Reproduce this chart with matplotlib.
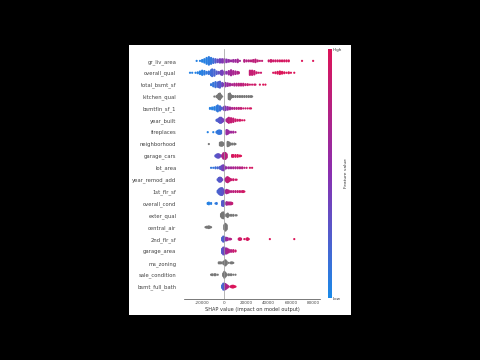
import matplotlib
matplotlib.use('Agg')
import matplotlib.pyplot as plt
from matplotlib.colors import LinearSegmentedColormap
from matplotlib.cm import ScalarMappable

# (shap value in thousands, points in the pile, feature value 0-1 or None for grey)
gr_liv_area = [(-25,1,.05),(-22,1,.05),(-20,3,.05),(-18,5,.05),(-16,8,.06),(-14,10,.08),(-12,8,.1),(-10,6,.15),
               (-8,5,.25),(-6,4,.35),(-4,5,.4),(-2,5,.45),(0,5,.5),(2,4,.5),(4,3,.55),(6,2,.6),(8,3,.6),(10,3,.62),
               (12,4,.65),(14,1,.65),(18,3,.75),(20,2,.75),(22,2,.78),(24,2,.8),(26,3,.8),(28,4,.82),(30,2,.82),
               (32,1,.85),(34,1,.85),(40,2,.9),(42,3,.9),(44,2,.9),(46,2,.92),(48,2,.92),(50,2,.95),(52,2,.95),
               (54,2,.95),(56,2,.97),(58,2,.97),(70,1,1.0),(80,1,1.0)]
overall_qual = [(-31,1,.05),(-29,1,.05),(-26,1,.05),(-24,2,.05),(-22,4,.05),(-20,6,.06),(-18,5,.08),(-16,3,.1),
                (-14,4,.12),(-12,7,.15),(-11,9,.18),(-9,8,.2),(-7,4,.25),(-5,3,.32),(-3,5,.38),(-2,6,.4),(0,4,.45),
                (2,3,.5),(4,5,.6),(6,7,.65),(8,5,.68),(10,4,.7),(12,3,.72),(13,2,.75),(23,6,.85),(25,6,.85),
                (27,5,.87),(29,2,.88),(31,1,.9),(33,1,.9),(44,1,.97),(46,2,.97),(48,3,1.0),(50,4,1.0),(52,3,1.0),
                (54,2,1.0),(56,1,1.0),(58,2,1.0),(60,1,1.0),(63,1,1.0)]
total_bsmt_sf = [(-12,2,.1),(-10,5,.12),(-8,7,.15),(-6,6,.2),(-5,7,.22),(-4,8,.25),(-2,5,.35),(-1,3,.42),(1,5,.55),
                 (3,4,.6),(5,3,.65),(7,2,.7),(9,3,.72),(11,3,.75),(13,3,.78),(15,3,.8),(17,3,.82),(19,2,.85),
                 (21,2,.88),(23,1,.9),(25,1,.9),(27,1,.92),(28,1,.92),(32,1,.95),(35,1,1.0),(37,1,1.0)]
kitchen_qual = [(-9,1,None),(-7,2,None),(-6,4,None),(-5,7,None),(-4,8,None),(-3,4,None),(-2,1,None),(4,7,None),
                (5,8,None),(6,4,None),(7,2,None),(8,2,None),(10,2,None),(12,2,None),(14,2,None),(16,2,None),
                (18,2,None),(20,2,None),(22,2,None),(24,2,None),(25,1,None)]
bsmtfin_sf_1 = [(-13,2,.05),(-11,3,.05),(-9,4,.06),(-7,6,.08),(-6,8,.1),(-4,6,.15),(-3,3,.2),(-1,3,.3),(0,5,.4),
                (1,5,.45),(3,4,.55),(5,3,.65),(7,2,.7),(9,2,.75),(11,2,.78),(13,2,.8),(15,2,.85),(17,1,.85),
                (19,1,.9),(21,1,.9),(23,1,.95),(24,1,.95)]
year_built = [(-7,2,.2),(-6,3,.25),(-5,5,.25),(-4,7,.28),(-3,7,.3),(-2,5,.35),(-1,3,.4),(2,3,.7),(3,5,.75),(4,7,.8),
              (6,6,.85),(8,5,.85),(10,3,.9),(12,2,.9),(14,2,.92),(16,1,.95),(18,1,.95)]
fireplaces = [(-15,1,.05),(-10,1,.05),(-7,2,.1),(-6,4,.1),(-5,5,.12),(-4,5,.12),(-3,4,.15),(2,6,.55),(3,5,.6),
              (4,3,.6),(6,2,.62),(8,2,.65),(10,1,.7)]
neighborhood = [(-14,1,None),(-4,4,None),(-3,5,None),(-2,5,None),(-1,3,None),(3,6,None),(4,5,None),(5,3,None),
                (7,2,None),(9,2,None),(10,1,None)]
garage_cars = [(-8,2,.25),(-7,4,.28),(-6,5,.3),(-5,5,.32),(-4,3,.35),(-2,3,.65),(-1,7,.72),(0,8,.75),(1,8,.78),
               (2,5,.8),(7,3,.95),(8,3,.95),(10,3,1.0),(12,3,1.0),(14,2,1.0),(15,1,1.0)]
lot_area = [(-12,1,.1),(-10,1,.12),(-8,2,.15),(-6,2,.2),(-4,3,.25),(-3,4,.3),(-2,6,.35),(-1,7,.4),(0,5,.45),(1,2,.5),
            (2,2,.6),(4,2,.62),(6,2,.65),(8,2,.68),(10,2,.7),(12,2,.72),(14,2,.75),(16,2,.78),(18,1,.8),(20,1,.85),
            (23,1,.95),(25,1,.95)]
year_remod_add = [(-6,2,.25),(-5,5,.25),(-4,6,.28),(-3,5,.3),(-2,2,.35),(1,3,.75),(2,6,.8),(3,7,.82),(4,5,.85),
                  (5,3,.85),(6,2,.88),(8,2,.9),(10,1,.9),(11,1,.92)]
first_flr_sf = [(-6,3,.2),(-5,6,.22),(-4,8,.25),(-3,9,.25),(-2,9,.28),(-1,6,.3),(0,3,.35),(1,3,.6),(2,5,.7),(3,4,.72),
                (4,3,.75),(6,2,.78),(8,2,.8),(10,2,.82),(12,2,.85),(14,2,.88),(16,2,.9),(17,2,.92),(18,1,.95)]
overall_cond = [(-15,2,.05),(-14,3,.05),(-12,2,.06),(-8,1,.08),(-7,2,.1),(-2,6,.25),(-1,7,.28),(0,3,.3),(2,4,.65),
                (3,3,.7),(4,3,.72),(5,3,.75),(6,3,.8),(7,2,.85)]
exter_qual = [(-3,4,None),(-2,7,None),(-1,8,None),(0,3,None),(2,3,None),(3,5,None),(4,2,None),(6,2,None),(8,2,None),
              (10,1,None),(11,1,None)]
central_air = [(-17,1,None),(-16,2,None),(-15,2,None),(-14,3,None),(-13,2,None),(-12,1,None),(0,6,None),(1,9,None),
               (2,6,None)]
second_flr_sf = [(-2,4,.2),(-1,7,.22),(0,6,.28),(1,3,.35),(2,4,.6),(3,3,.65),(5,2,.7),(6,1,.75),(13,2,.9),(14,3,.9),
                 (15,2,.92),(18,1,.95),(20,2,.95),(21,3,.97),(22,1,.97),(41,1,1.0),(63,1,1.0)]
garage_area = [(-2,6,.25),(-1,9,.3),(0,9,.38),(1,6,.5),(2,7,.65),(3,5,.7),(4,4,.72),(6,3,.78),(8,3,.85),(10,2,.9)]
ms_zoning = [(-5,2,None),(-4,2,None),(-3,2,None),(-1,3,None),(0,5,None),(1,7,None),(2,4,None),(4,1,None),(6,2,None),
             (7,2,None),(8,1,None)]
sale_condition = [(-12,1,None),(-11,2,None),(-9,2,None),(-8,2,None),(-6,1,None),(-1,4,None),(0,8,None),(1,5,None),
                  (2,2,None),(4,2,None),(6,2,None),(8,1,None),(10,1,None)]
bsmt_full_bath = [(-2,4,.15),(-1,8,.2),(0,8,.3),(1,7,.6),(2,5,.7),(3,3,.75),(4,1,.8),(6,2,.95),(7,3,.95),(8,3,1.0),
                  (9,2,1.0),(10,1,1.0)]

features = ['gr_liv_area', 'overall_qual', 'total_bsmt_sf', 'kitchen_qual', 'bsmtfin_sf_1', 'year_built',
            'fireplaces', 'neighborhood', 'garage_cars', 'lot_area', 'year_remod_add', '1st_flr_sf',
            'overall_cond', 'exter_qual', 'central_air', '2nd_flr_sf', 'garage_area', 'ms_zoning',
            'sale_condition', 'bsmt_full_bath']
rows = [gr_liv_area, overall_qual, total_bsmt_sf, kitchen_qual, bsmtfin_sf_1, year_built, fireplaces, neighborhood,
        garage_cars, lot_area, year_remod_add, first_flr_sf, overall_cond, exter_qual, central_air, second_flr_sf,
        garage_area, ms_zoning, sale_condition, bsmt_full_bath]
x_ticks = [-20000, 0, 20000, 40000, 60000, 80000]

W, H = 480, 360
cmap = LinearSegmentedColormap.from_list('shap', ['#1a8ae8', '#8a2fb0', '#dc1458'])

fig = plt.figure(figsize=(W / 100, H / 100), dpi=100, facecolor='black')

# white page inside the black frame
page = fig.add_axes([129 / W, 1 - 315 / H, 221.5 / W, 270 / H], facecolor='white')
page.set_xticks([])
page.set_yticks([])
for s in page.spines.values():
    s.set_visible(False)

ax = fig.add_axes([184 / W, 1 - 298.5 / H, 136 / W, 249.5 / H], facecolor='none')
ax.set_xlim(-36400, 86200)
ax.set_ylim(-1, 20)
ax.axvline(0, color='#999999', lw=0.5, zorder=4)

for i, row in enumerate(rows):
    y0 = 19 - i
    xs, ys, cs = [], [], []
    for x, n, c in row:
        for k in range(n):
            xs.append(x * 1000)
            ys.append(y0 + (k - (n - 1) / 2) * 0.07)
            cs.append('#777777' if c is None else cmap(float(c)))
    ax.scatter(xs, ys, s=2.5, c=cs, linewidths=0, zorder=3)

ax.set_yticks(range(19, -1, -1))
ax.set_yticklabels(features, fontsize=3.8, color='#444444')
ax.tick_params(axis='y', length=0, pad=5.5)
ax.set_xticks(x_ticks)
ax.set_xticklabels([str(t) for t in x_ticks], fontsize=3.0, color='#444444')
ax.tick_params(axis='x', length=0, width=0.4, pad=1.5)
ax.set_xlabel('SHAP value (impact on model output)', fontsize=3.6, color='#333333', labelpad=1.5)
for s in ['top', 'left', 'right']:
    ax.spines[s].set_visible(False)
ax.spines['bottom'].set_linewidth(0.5)
ax.spines['bottom'].set_color('#444444')

cax = fig.add_axes([328.3 / W, 1 - 298 / H, 3.2 / W, 249 / H])
cb = fig.colorbar(ScalarMappable(cmap=cmap), cax=cax, ticks=[0, 1])
cb.outline.set_visible(False)
cb.ax.set_yticklabels(['Low', 'High'], fontsize=3, color='#333333')
cb.ax.tick_params(length=0, pad=1)
cb.set_label('Feature value', fontsize=3.2, color='#333333', labelpad=1)

fig.savefig('out.png', dpi=100, facecolor='black')
